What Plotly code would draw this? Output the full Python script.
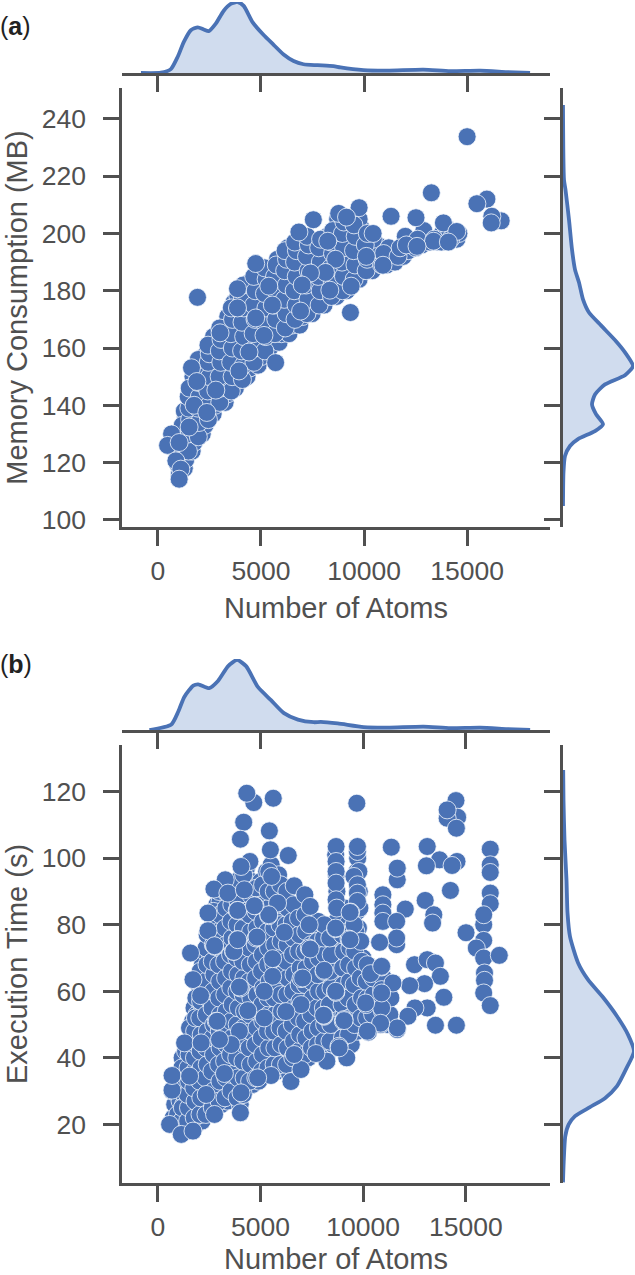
import plotly.graph_objects as go

WIDTH = 635
HEIGHT = 1275
BLUE = "#4a72b5"
FILL = "#d0dcee"
GREY = "#505050"
FONT = "Liberation Sans"

x_ticks = [0, 5000, 10000, 15000]
y_ticks_a = [100, 120, 140, 160, 180, 200, 220, 240]
y_ticks_b = [20, 40, 60, 80, 100, 120]

# (a) memory: dense part of the cloud, columns left to right
cloud_a = [
    (1040,116),(1000,119),(1100,122),(950,124),(1150,125),
    (1280,118),(1350,121),(1230,124),(1400,127),(1300,130),(1420,133),(1340,136),(1280,138),
    (1660,124),(1750,127),(1620,130),(1800,133),(1700,136),(1640,141),(1820,143),(1740,146),(1700,150),(1850,152),
    (2150,130),(2280,133),(2120,136),(2300,139),(2200,142),(2100,145),(2260,148),(2140,151),(2320,154),(2220,157),
    (2680,137),(2780,140),(2630,143),(2820,146),(2700,149),(2590,152),(2760,155),(2640,158),(2810,161),(2700,164),
    (3260,141),(3380,144),(3220,147),(3420,150),(3300,153),(3190,156),(3360,159),(3250,162),(3440,165),(3320,168),(3390,171),
    (3760,146),(3880,149),(3700,152),(3920,155),(3800,158),(3680,161),(3860,164),(3740,167),(3940,170),(3790,173),(3700,176),(3880,178),
    (4320,150),(4450,153),(4280,156),(4480,159),(4360,162),(4240,165),(4420,168),(4300,171),(4500,174),(4350,177),(4250,180),(4450,183),
    (4860,154),(5000,157),(4820,160),(5040,163),(4900,166),(4780,169),(4960,172),(4840,175),(5060,178),(4900,181),(4790,184),(5000,187),
    (5420,160),(5320,163),(5510,166),(5400,169),(5280,172),(5460,175),(5340,178),(5530,181),(5400,184),(5300,187),
    (5880,162),(5990,165),(5840,168),(6030,171),(5900,174),(5780,177),(5960,180),(5840,183),(6050,186),(5900,189),(5800,191),
    (6360,165),(6500,168),(6320,171),(6540,174),(6400,177),(6280,180),(6460,183),(6340,186),(6560,189),(6420,192),(6300,195),
    (6880,168),(7010,171),(6840,174),(7050,177),(6920,180),(6790,183),(6970,186),(6860,189),(7060,192),(6930,195),(6820,197),
    (7480,172),(7600,175),(7440,178),(7640,181),(7510,184),(7400,187),(7570,190),(7460,193),(7620,196),
    (8060,175),(8200,178),(8020,181),(8240,184),(8100,187),(8000,190),(8160,193),(8050,196),(8220,199),
    (8660,178),(8800,181),(8620,184),(8840,187),(8700,190),(8600,193),(8760,196),(8650,199),(8820,202),(8720,205),
    (9160,180),(9300,183),(9120,186),(9340,189),(9200,192),(9100,195),(9260,198),(9150,201),(9320,204),
    (9760,184),(9900,187),(9720,190),(9940,193),(9800,196),(9700,199),(9860,202),(9760,205),
    (10400,187),(10600,190),(10350,193),(10650,196),(10450,198),
    (11100,189),(11300,192),(11500,190),(11200,195),
    (11900,192),(12150,194),(12300,197),(12000,199),
    (12800,196),(13050,199),(13200,197),(12900,201),
    (13600,197),(13800,200),(14000,202),(13750,197),
    (14300,199),(14500,198),(14600,200),(14150,201),
]
# second pass between the columns above, closes the gaps
fill_a = [
    (1120,127),(1200,129),(1180,133),(1480,124),(1500,130),(1540,135),(1500,139),(1470,143),(1520,146),
    (1960,129),(2000,134),(1940,139),(2010,143),(1950,148),(2000,152),(1960,156),
    (2450,135),(2480,140),(2420,145),(2500,150),(2440,155),(2490,158),(2430,161),
    (3000,141),(3040,146),(2970,150),(3050,155),(2980,159),(3060,163),(3000,167),
    (3560,145),(3600,150),(3530,155),(3610,160),(3540,165),(3620,170),(3560,174),
    (4100,149),(4150,154),(4060,159),(4160,164),(4080,169),(4170,174),(4090,178),(4140,182),
    (4660,155),(4700,160),(4620,165),(4710,170),(4640,175),(4720,180),(4650,185),
    (5190,159),(5230,164),(5150,169),(5240,174),(5170,179),(5250,184),(5180,188),
    (5680,165),(5720,170),(5640,175),(5730,180),(5660,185),(5740,189),
    (6180,167),(6220,172),(6130,177),(6230,182),(6150,187),(6240,191),(6170,194),
    (6650,170),(6700,175),(6610,180),(6710,185),(6630,190),(6720,194),(6640,197),
    (7230,172),(7280,177),(7190,182),(7290,187),(7210,192),(7300,196),(7240,199),
    (7820,175),(7870,180),(7780,185),(7880,190),(7800,195),(7890,198),
    (8420,178),(8460,183),(8380,188),(8470,193),(8400,197),(8480,201),
    (8960,180),(9000,185),(8930,190),(9010,195),(8950,200),(9020,204),
    (9520,184),(9560,189),(9490,194),(9570,199),(9510,203),
    (10100,187),(10150,191),(10060,196),(10160,200),
    (10850,189),(10950,193),(11650,192),(11750,195),
    (12500,195),(12600,198),(13400,198),(14200,198),
]
# points that sit on top / stand out in the picture
top_a = [
    (15000,233.8),(13265,214.2),(15960,212),(15475,210.4),(16650,204.4),(16200,206),(16170,203.7),
    (9760,209),(11310,206),(12520,205.5),(8770,207),(9150,205.7),(10440,200),(9340,172.4),
    (13850,203.7),(14500,200.7),(13370,197.3),(14090,197),(12050,196),(12570,195.5),(10920,188.9),
    (10110,192),(9375,181.6),(8340,180.2),(8620,191),(8130,186.4),(8240,197.3),
    (1920,177.7),(4745,189.5),(6840,200.5),(7540,204.8),(7400,186.2),(7000,182),(5550,175),(5380,181.6),
    (3860,180.7),(3860,174),(5710,154.9),(3935,152),(4420,158.6),(5145,164.4),(4745,170.5),(6920,172.9),
    (3015,165.3),(1630,153.1),(1888,148.3),(2810,145.3),(1757,140),(2372,137.5),(1515,132.4),
    (663,130),(469,126),(1031,127),(871,120.6),(1113,117.7),(1031,114.2),
]

# (b) execution time: dense part of the cloud
cloud_b = [
    (750,22),(820,26),(700,30),(900,33),
    (1010,19),(960,23),(1080,27),(1000,31),(1120,36),(1180,40),
    (1280,18),(1340,22),(1260,26),(1380,30),(1300,34),(1420,38),(1350,42),
    (1560,19),(1660,24),(1610,28),(1700,33),(1580,37),(1650,41),(1720,46),(1690,51),(1760,55),
    (1880,20),(1950,25),(1860,30),(1930,35),(1990,39),(1870,44),(1960,49),(1900,53),(2010,57),(1980,62),
    (2150,21),(2240,26),(2180,31),(2290,36),(2210,40),(2130,46),(2260,50),(2190,55),(2300,60),(2230,65),(2170,68),(2280,72),
    (2480,24),(2560,28),(2450,33),(2530,38),(2600,42),(2470,47),(2550,52),(2510,57),(2620,61),(2490,66),(2570,70),(2520,75),(2610,79),
    (2790,25),(2860,30),(2750,35),(2830,40),(2900,45),(2780,50),(2850,55),(2920,60),(2770,65),(2840,70),(2910,75),(2800,80),(2870,86),
    (3100,26),(3180,31),(3060,36),(3140,41),(3210,46),(3090,51),(3170,56),(3040,61),(3150,66),(3220,71),(3080,76),(3160,81),(3030,87),
    (3380,27),(3450,33),(3360,38),(3470,43),(3400,48),(3510,53),(3350,58),(3430,63),(3490,68),(3370,73),(3460,78),(3390,83),(3520,88),
    (3680,29),(3760,34),(3650,39),(3730,44),(3800,49),(3660,54),(3780,59),(3710,64),(3640,69),(3790,74),(3720,79),(3670,88),(3810,92),
    (4010,26),(4080,32),(3960,37),(4050,42),(4120,47),(3980,52),(4060,57),(4130,62),(4000,67),(4090,72),(3970,77),(4040,82),(4110,87),(4010,94),
    (4290,31),(4370,36),(4260,41),(4340,46),(4400,51),(4280,56),(4360,61),(4430,66),(4300,71),(4380,76),(4250,81),(4350,86),(4420,93),(4310,97),
    (4620,32),(4690,37),(4570,42),(4650,47),(4720,52),(4600,57),(4680,62),(4550,67),(4640,72),(4710,77),(4590,82),(4670,88),(4560,93),
    (4910,33),(4980,38),(4860,43),(4950,48),(5020,53),(4890,58),(4970,63),(5040,68),(4920,73),(4850,78),(5000,83),(4930,88),(5010,93),
    (5190,36),(5260,41),(5150,46),(5240,51),(5310,56),(5170,61),(5280,66),(5210,71),(5140,76),(5270,81),(5330,87),(5180,91),(5300,96),
    (5490,36),(5570,41),(5450,47),(5540,52),(5610,57),(5480,62),(5560,67),(5630,72),(5500,77),(5590,82),(5460,89),(5600,92),(5520,98),
    (5800,36),(5870,42),(5760,47),(5840,52),(5910,58),(5780,63),(5860,68),(5740,73),(5830,78),(5900,83),(5770,90),(5880,95),
    (6100,37),(6180,42),(6060,47),(6140,53),(6210,58),(6090,63),(6170,68),(6040,73),(6130,79),(6200,84),(6080,89),
    (6420,35),(6490,40),(6370,45),(6450,50),(6520,55),(6400,60),(6480,66),(6350,71),(6440,76),(6510,81),(6390,86),
    (6700,39),(6780,44),(6660,49),(6740,54),(6810,60),(6690,65),(6770,70),(6640,75),(6730,80),(6800,85),
    (7020,38),(7090,43),(6970,48),(7050,53),(7120,58),(7000,63),(7080,68),(6950,74),(7040,78),(7110,83),
    (7320,40),(7390,45),(7270,50),(7350,55),(7420,60),(7300,66),(7380,71),(7250,76),
    (7620,42),(7690,47),(7570,52),(7650,57),(7720,62),(7600,68),(7680,73),(7550,78),
    (7920,42),(7990,48),(7870,53),(7950,58),(8020,64),(7900,69),(7980,74),(7850,79),
    (8230,41),(8300,46),(8170,51),(8260,57),(8330,62),(8210,67),(8280,72),(8150,77),
    (8520,44),(8580,49),(8470,55),(8550,60),(8620,65),(8500,70),(8570,75),
    (8810,44),(8870,49),(8760,54),(8840,60),(8900,65),(8780,70),(8850,76),(8700,81),(8720,90),(8690,95),(8660,101),
    (9130,42),(9180,47),(9060,53),(9150,58),(9210,64),(9080,69),(9160,74),(9230,80),(9120,85),
    (9420,44),(9480,50),(9370,55),(9450,60),(9510,66),(9390,71),(9470,77),
    (9720,48),(9780,53),(9670,59),(9750,64),(9810,69),(9690,74),(9770,79),(9710,84),(9740,91),(9700,96),(9730,100),
    (10010,49),(10080,54),(9960,60),(10040,65),(9990,70),
    (10300,50),(10380,56),(10260,62),(10340,67),
    (10780,52),(10620,58),(10800,62),(10680,66),
    (11100,55),(11200,50),
]
# second pass between the columns above, closes the gaps
fill_b = [
    (1150,21),(1190,25),(1130,30),(1210,33),(1170,37),
    (1450,21),(1490,25),(1440,29),(1500,33),(1470,37),(1520,41),(1480,45),(1540,49),
    (1770,22),(1810,27),(1750,31),(1800,36),(1780,40),(1820,44),(1790,48),(1830,52),(1850,58),
    (2050,23),(2090,28),(2030,33),(2100,37),(2060,42),(2110,47),(2040,52),(2080,57),(2120,62),(2060,66),
    (2340,23),(2380,29),(2320,34),(2400,38),(2350,43),(2410,48),(2360,53),(2420,58),(2340,63),(2390,68),(2350,73),(2400,77),
    (2650,25),(2700,30),(2630,36),(2710,41),(2660,46),(2720,50),(2640,55),(2690,60),(2730,65),(2650,69),(2700,74),(2660,79),(2720,84),
    (2980,27),(3020,33),(2960,38),(3030,43),(2990,48),(3040,53),(2970,58),(3010,63),(2960,68),(3020,73),(2980,78),(3030,83),(2970,90),
    (3270,28),(3310,34),(3250,39),(3320,44),(3280,49),(3330,54),(3260,59),(3300,64),(3250,69),(3320,74),(3270,79),(3310,85),(3290,90),
    (3560,30),(3600,35),(3540,41),(3610,46),(3570,51),(3620,56),(3550,61),(3590,66),(3540,71),(3610,76),(3560,81),(3600,86),(3570,91),
    (3860,28),(3900,34),(3840,40),(3910,45),(3860,50),(3920,55),(3850,60),(3900,65),(3840,70),(3910,75),(3860,80),(3900,87),(3850,93),
    (4160,29),(4200,34),(4140,39),(4210,44),(4170,49),(4220,54),(4150,59),(4190,64),(4140,69),(4210,74),(4160,79),(4200,84),(4180,95),
    (4470,33),(4510,38),(4450,43),(4520,48),(4480,53),(4530,58),(4460,63),(4500,68),(4450,73),(4520,78),(4470,83),(4510,89),(4480,99),
    (4770,34),(4810,39),(4750,44),(4820,49),(4780,54),(4830,59),(4760,64),(4800,69),(4750,74),(4820,79),(4770,84),(4810,91),
    (5060,36),(5100,41),(5040,46),(5110,51),(5070,56),(5120,61),(5050,66),(5090,71),(5040,76),(5110,81),(5060,86),(5100,92),
    (5360,37),(5400,43),(5340,48),(5410,53),(5370,58),(5420,63),(5350,68),(5390,73),(5340,78),(5410,85),(5370,90),(5400,96),
    (5660,38),(5700,43),(5650,48),(5710,53),(5670,58),(5720,63),(5650,68),(5690,74),(5650,79),(5710,84),(5670,90),
    (5970,38),(6010,44),(5950,49),(6020,54),(5980,59),(6030,65),(5960,70),(6000,75),(5950,80),(6020,86),(5980,92),
    (6270,38),(6310,43),(6250,48),(6320,54),(6280,59),(6330,64),(6260,69),(6300,74),(6250,80),(6320,85),(6280,90),
    (6570,40),(6610,45),(6550,50),(6620,55),(6580,60),(6630,65),(6560,71),(6600,76),(6550,81),(6620,86),
    (6870,42),(6910,47),(6850,52),(6920,57),(6880,62),(6930,67),(6860,72),(6900,77),(6850,82),
    (7170,41),(7210,46),(7150,51),(7220,56),(7180,62),(7230,67),(7160,72),(7200,78),(7170,83),
    (7480,43),(7520,48),(7460,53),(7530,58),(7490,63),(7540,69),(7470,74),(7510,80),
    (7780,44),(7820,49),(7760,55),(7830,60),(7790,65),(7840,70),(7770,75),(7810,81),
    (8080,45),(8120,50),(8060,55),(8130,60),(8090,66),(8140,71),(8070,76),(8110,80),
    (8380,45),(8420,50),(8360,56),(8430,61),(8390,66),(8440,71),(8370,76),
    (8990,46),(9030,51),(8970,56),(9040,62),(9000,67),(9050,72),(8980,77),
    (9290,47),(9330,52),(9270,58),(9340,63),(9300,68),(9350,73),(9280,78),
    (9580,50),(9620,56),(9560,62),(9630,67),(9590,72),(9640,78),
    (9880,52),(9920,58),(9860,64),(9930,69),(9880,75),(9840,85),(9810,90),(9790,96),
    (10170,52),(10210,58),(10150,63),(10200,68),(10460,53),(10500,59),(10480,64),
    (10940,54),(11030,59),(10990,64),(11300,53),(11350,58),
]
top_b = [
    (4670,116.7),(4330,119.5),(5620,118),(4180,110.8),(5430,108.2),(4020,105.7),(5480,102.5),(6350,100.8),(4050,97.5),
    (5540,94.5),(3280,93.5),(2730,90.7),(3410,89.5),(2440,83.5),(2440,78.2),(1590,71.5),(6640,91.7),(7160,89),
    (7420,85.5),(7370,80),(4210,90.5),(4730,85.7),(5830,86.5),(5400,82.7),(3860,84.3),(4780,76),(6160,77.7),
    (3860,75.5),(2760,73.5),(3680,72),(7370,73),
    (9690,116.5),(14520,117.3),(14600,112.3),(14090,112),(14540,109),(14090,114.5),
    (8680,103.5),(9720,102),(9720,103.5),(11370,103.3),(13120,103.5),(16190,102.7),(14570,99),(13720,99.5),
    (13080,97.7),(14330,97.8),(11660,93.5),(11660,97),(8680,99),(8680,96),(8680,92.5),(9550,94.5),(9720,92),
    (9720,89.5),(9720,87),(8680,87.5),(8710,85),(9390,83.8),(16190,98),(16190,95.7),(16190,89.5),(16190,86.3),
    (14250,90.3),(13020,87.3),(13440,83),(13380,80.5),(12050,84.7),(10960,89),(10960,86),(10960,83.5),(10960,81),
    (11630,81),(11630,74),(11630,76),(10800,74.7),(9560,80),(8650,78.8),(9310,75.7),(15870,80),(15870,83),(15010,77.6),
    (15870,75.3),(15510,73),(15870,70),(16630,70.8),(15910,65.5),(15910,63.3),(15870,59.5),(16190,55.7),
    (12500,68),(13120,69.5),(13520,68.5),(13760,64.5),(12990,62.3),(13930,58.2),(12270,61.7),(13120,55),(12520,55),
    (12180,52.5),(13520,49.8),(14540,49.8),(11660,48.5),(10850,50),(10250,47.7),(10150,56),(10900,60.5),(10900,67.3),
    (11450,62.5),(10360,65.3),(10900,55),(8650,59.8),(9070,51.5),(8100,52.5),(8820,43.5),
    (4020,23.5),(570,20),(1140,17),(1710,18),(690,30.3),(690,34.7),(1545,34.5),(1300,44.5),(2110,44.5),(1710,63.5),
    (2080,58.7),(6480,32.9),(6970,36.5),(8230,39),(9200,40),(8830,43),(7700,41.3),(6640,41),(5510,34.7),(4860,34),
    (4050,29.5),(3240,35.3),(2760,23),(2350,29),(11660,49),(10850,50.4),(10200,48),(10120,56.5),(10900,59.5),(10900,67.5),
    (8670,59.7),(8100,52.8),(9070,51.2),(6970,63.8),(5590,64.5),(8100,66.3),(5180,60),(4020,61),(6970,56),(6240,53.9),
    (5180,52),(4380,54.2),(3970,48),(2840,51),(3570,44),(3000,45.5),(3970,61.3),(7050,64),(8660,60),(8070,52.8),
    (3700,72),(4830,76.3),(7420,72.7),(8660,79),(9360,75.5),(9360,83.7),(5400,83),(2760,73.7),(3890,84.3),(4700,85.7),
    (3890,75.5),(5590,69.8),(2890,51),
]

# marginal densities, heights in arbitrary units
kde_atoms_a = [-823, 145, 629, 968, 1258, 1597, 1936, 2226, 2468, 2807, 3194, 3533, 3872, 4162, 4598, 5130, 5614, 6098, 6582, 7066, 7744, 8518, 8857, 9970, 11132, 12874, 14181, 15633, 16940, 18053]
kde_density_a = [0, 0.3, 4, 17, 32, 44, 47, 44.7, 43, 50.7, 64, 71, 73, 69, 52, 39, 29, 19, 12.3, 9, 8, 7, 5.7, 3, 2.5, 3.5, 2, 2.5, 1, 0]
kde_memory = [244.9, 218.7, 215.3, 204.8, 194.4, 187.4, 182.9, 177, 172.4, 167.9, 162.4, 158.5, 153.7, 150.5, 147.3, 143.8, 140.3, 136.9, 133.4, 131, 128.2, 125.8, 122.3, 116.7, 104.8]
kde_memory_density = [0, 1, 2.5, 6, 9, 12, 16, 20, 26, 38, 53, 62, 70, 62, 42, 32, 29, 33, 40, 32, 15, 7, 2, 0.5, 0]

kde_atoms_b = [-413, 655, 995, 1286, 1723, 1966, 2500, 2937, 3422, 3859, 4296, 4879, 5510, 6141, 6820, 7597, 7937, 8762, 10024, 11190, 12937, 14248, 15704, 17015, 18131]
kde_density_b = [0, 5.7, 19, 34, 45.7, 47, 43, 50.7, 65.7, 72, 65.7, 44, 30.7, 17.3, 10.7, 8, 8.3, 6.7, 3, 2.5, 3.5, 2, 2.5, 1, 0]
kde_time = [126.5, 117.5, 105.5, 93.5, 83.6, 76.4, 68.6, 63.5, 58.2, 52.5, 47, 42, 37.2, 31.5, 27.9, 25.2, 22.5, 20, 16.5, 8.7, 2.6]
kde_time_density = [0.2, 0.5, 1.5, 3.5, 4.5, 7, 15, 25, 40, 54, 65, 71, 64, 54, 42, 27, 12, 5.7, 2.3, 0.7, 0]


def dom_x(left, right):
    return [left / WIDTH, right / WIDTH]


def dom_y(top, bottom):
    return [1 - bottom / HEIGHT, 1 - top / HEIGHT]


def add_panel(fig, n, points, kde_x, kde_xd, kde_y, kde_yd, ylabel, yticks,
              xrange, yrange, main_top, main_bottom, marg_bottom, marg_peak):
    """One jointplot: scatter, density along the top, density on the right."""
    ax = [str(n) if n > 1 else "", str(n + 1), str(n + 2)]
    fig.add_trace(go.Scatter(
        x=[p[0] for p in points], y=[p[1] for p in points], mode="markers",
        xaxis="x" + ax[0], yaxis="y" + ax[0], cliponaxis=False,
        marker=dict(size=18, color=BLUE, line=dict(color="#f4f7fc", width=0.8)),
    ))
    fig.add_trace(go.Scatter(
        x=kde_x, y=kde_xd, mode="lines", xaxis="x" + ax[1], yaxis="y" + ax[1], cliponaxis=False,
        fill="tozeroy", fillcolor=FILL, line=dict(color=BLUE, width=3.8, shape="spline", smoothing=0.6),
    ))
    fig.add_trace(go.Scatter(
        x=kde_yd, y=kde_y, mode="lines", xaxis="x" + ax[2], yaxis="y" + ax[2], cliponaxis=False,
        fill="tozerox", fillcolor=FILL, line=dict(color=BLUE, width=3.8, shape="spline", smoothing=0.6),
    ))

    common = dict(showgrid=False, zeroline=False, showline=True, linecolor=GREY, linewidth=2.6,
                  ticks="outside", ticklen=16, tickwidth=2.6, tickcolor=GREY, layer="above traces",
                  automargin=False, tickformat="d", tickfont=dict(family=FONT, size=26.5, color=GREY))
    left, right = 122, 550
    side_left = 563

    fig.update_layout({
        "xaxis" + ax[0]: dict(common, domain=dom_x(left, right), range=xrange, tickvals=x_ticks,
                              anchor="y" + ax[0], ticklabelstandoff=2,
                              title=dict(text="Number of Atoms", standoff=14,
                                         font=dict(family=FONT, size=29, color=GREY))),
        "yaxis" + ax[0]: dict(common, domain=dom_y(main_top, main_bottom), range=yrange, tickvals=yticks,
                              anchor="x" + ax[0], ticklabelstandoff=12,
                              title=dict(text=ylabel, standoff=6,
                                         font=dict(family=FONT, size=29, color=GREY))),
        "xaxis" + ax[1]: dict(common, domain=dom_x(left, right), range=xrange, tickvals=x_ticks,
                              showticklabels=False, anchor="y" + ax[1]),
        "yaxis" + ax[1]: dict(domain=dom_y(marg_bottom - marg_peak, marg_bottom), range=[0, 73],
                              visible=False, anchor="x" + ax[1]),
        "xaxis" + ax[2]: dict(domain=dom_x(side_left, 634), range=[0, 71], visible=False, anchor="y" + ax[2]),
        "yaxis" + ax[2]: dict(common, domain=dom_y(main_top, main_bottom), range=yrange, tickvals=yticks,
                              showticklabels=False, anchor="x" + ax[2]),
    })


fig = go.Figure()
add_panel(fig, 1, cloud_a + fill_a + top_a, kde_atoms_a, kde_density_a, kde_memory, kde_memory_density,
          "Memory Consumption (MB)", y_ticks_a, [-1742, 19021], [97.5, 250.8], 88, 527, 73, 71)
add_panel(fig, 4, cloud_b + fill_b + top_b, kde_atoms_b, kde_density_b, kde_time, kde_time_density,
          "Execution Time (s)", y_ticks_b, [-1748, 19100], [2.4, 134], 745, 1183, 730, 71)

for text, y in [("(<b>a</b>)", 26), ("(<b>b</b>)", 664)]:
    fig.add_annotation(text=text, x=0, y=1 - y / HEIGHT, xref="paper", yref="paper", xanchor="left",
                       yanchor="middle", xshift=-2, showarrow=False,
                       font=dict(family=FONT, size=25, color="#222222"))

fig.update_layout(width=WIDTH, height=HEIGHT, margin=dict(l=0, r=0, t=0, b=0), showlegend=False,
                  paper_bgcolor="white", plot_bgcolor="rgba(0,0,0,0)")

fig.write_html("out.html", post_script="document.body.style.margin='0';", config={"displayModeBar": False})
